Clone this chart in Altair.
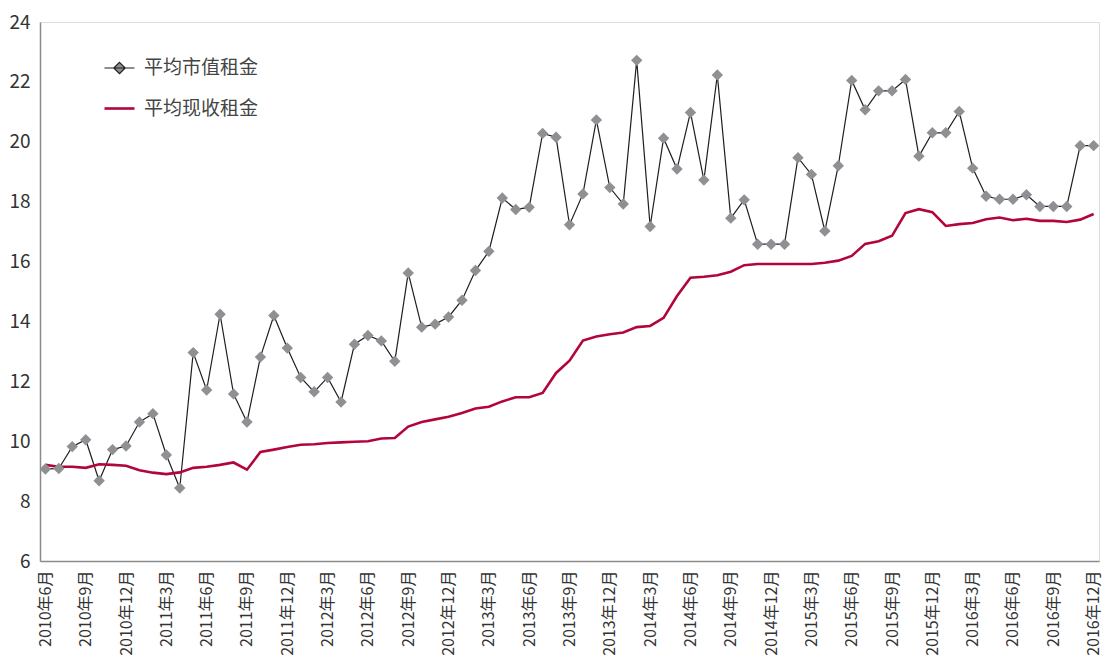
import altair as alt
import pandas as pd

# Monthly categories: 2010年6月 ... 2016年12月
months = []
for y in range(2010, 2017):
    for m in range(1, 13):
        if (y == 2010 and m < 6):
            continue
        months.append(f"{y}年{m}月")

series_names = ["平均市值租金", "平均现收租金"]

market_rent = [9.07, 9.09, 9.82, 10.05, 8.68, 9.72, 9.84, 10.64, 10.92, 9.54,
               8.44, 12.96, 11.71, 14.24, 11.58, 10.64, 12.81, 14.20, 13.11, 12.13,
               11.65, 12.13, 11.31, 13.24, 13.53, 13.35, 12.67, 15.62, 13.81, 13.91,
               14.15, 14.71, 15.70, 16.34, 18.12, 17.74, 17.81, 20.28, 20.15, 17.23,
               18.26, 20.73, 18.47, 17.92, 22.72, 17.17, 20.12, 19.09, 20.98, 18.72,
               22.23, 17.45, 18.06, 16.58, 16.58, 16.58, 19.47, 18.91, 17.02, 19.20,
               22.05, 21.07, 21.70, 21.70, 22.08, 19.52, 20.30, 20.30, 21.01, 19.12,
               18.18, 18.08, 18.08, 18.23, 17.84, 17.84, 17.84, 19.87, 19.87]

current_rent = [9.21, 9.15, 9.15, 9.11, 9.23, 9.21, 9.18, 9.03, 8.95, 8.90,
                8.96, 9.11, 9.15, 9.21, 9.29, 9.05, 9.64, 9.72, 9.81, 9.88,
                9.90, 9.94, 9.96, 9.98, 10.00, 10.09, 10.11, 10.49, 10.64, 10.73,
                10.82, 10.94, 11.09, 11.15, 11.33, 11.47, 11.47, 11.61, 12.28, 12.69,
                13.36, 13.50, 13.57, 13.63, 13.81, 13.85, 14.12, 14.85, 15.46, 15.49,
                15.54, 15.66, 15.88, 15.92, 15.92, 15.92, 15.92, 15.92, 15.96, 16.03,
                16.19, 16.59, 16.68, 16.86, 17.62, 17.75, 17.65, 17.19, 17.25, 17.29,
                17.41, 17.47, 17.38, 17.43, 17.36, 17.36, 17.32, 17.40, 17.59]

y_ticks = [6, 8, 10, 12, 14, 16, 18, 20, 22, 24]
x_label_values = months[::3]

df = pd.DataFrame({
    "month": months * 2,
    "series": [series_names[0]] * len(months) + [series_names[1]] * len(months),
    "value": market_rent + current_rent,
})

GRAY = "#8e9094"
RED = "#b2063b"
BLACK = "#1e1e1e"
FONT = "Noto Sans CJK SC"

x_enc = alt.X("month:N", sort=months,
              scale=alt.Scale(type="point", padding=0.4),
              axis=alt.Axis(values=x_label_values, labelAngle=270, title=None,
                            labelFontSize=16, labelPadding=9, labelColor="#333333",
                            labelFont=FONT, ticks=False, domainColor="#8a8a8a",
                            domainWidth=1.5, grid=False, labelOverlap=False))
y_enc = alt.Y("value:Q",
              scale=alt.Scale(domain=[6, 24], nice=False, zero=False),
              axis=alt.Axis(values=y_ticks, title=None, labelFontSize=19,
                            labelPadding=10, labelColor="#333333", labelFont=FONT,
                            ticks=False, domainColor="#8a8a8a", domainWidth=1.5,
                            grid=False))

base = alt.Chart(df)

market_line = base.transform_filter(
    alt.datum.series == series_names[0]
).mark_line(strokeWidth=1.2, color=BLACK).encode(x=x_enc, y=y_enc)

market_pts = base.transform_filter(
    alt.datum.series == series_names[0]
).mark_point(filled=True, shape="diamond", size=130, color=GRAY, opacity=1,
             strokeWidth=0).encode(x=x_enc, y=y_enc)

current_line = base.transform_filter(
    alt.datum.series == series_names[1]
).mark_line(strokeWidth=2.6, color=RED).encode(x=x_enc, y=y_enc)

legend_paths = ["M-1,0H1M0,-0.38L0.38,0L0,0.38L-0.38,0Z", "M-1,0H1"]
leg = alt.Legend(title=None, orient="none", legendX=63, legendY=30,
                 labelFontSize=19, labelFont=FONT, labelColor="#444444",
                 symbolSize=900, labelOffset=8, rowPadding=14,
                 symbolOpacity=1)

legend_layer = base.transform_filter("false").mark_point(filled=True, opacity=1).encode(
    x=x_enc, y=y_enc,
    shape=alt.Shape("series:N", scale=alt.Scale(domain=series_names, range=legend_paths), legend=leg),
    fill=alt.Fill("series:N", scale=alt.Scale(domain=series_names, range=[GRAY, RED]), legend=leg),
    stroke=alt.Stroke("series:N", scale=alt.Scale(domain=series_names, range=[BLACK, RED]), legend=leg),
    strokeWidth=alt.StrokeWidth("series:N", scale=alt.Scale(domain=series_names, range=[1.2, 2.6]), legend=leg),
)

chart = alt.layer(market_line, current_line, market_pts, legend_layer).properties(
    width=1059, height=539,
    autosize=alt.AutoSizeParams(type="none"),
    padding={"left": 32, "top": 14, "right": 6, "bottom": 100},
).configure_view(stroke=None).configure(background="white")

chart.save("out.html", embed_options={"renderer": "svg", "actions": False})
